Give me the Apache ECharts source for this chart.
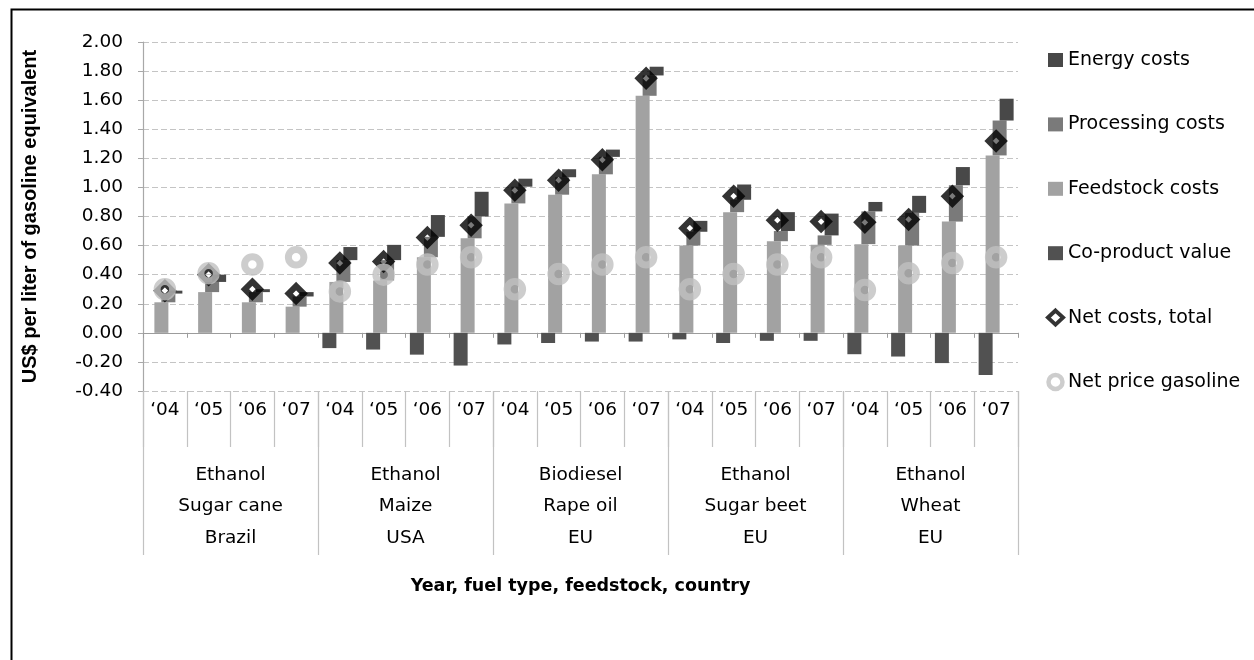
<!DOCTYPE html>
<html>
<head>
<meta charset="utf-8">
<title>Biofuel production costs</title>
<script src="https://cdn.jsdelivr.net/npm/echarts@6/dist/echarts.min.js"></script>
<style>
  html, body { margin: 0; padding: 0; background: #fff; }
  #chart { width: 1254px; height: 660px; }
</style>
</head>
<body>
<div id="chart"></div>
<script>
// Year of each column, and the fuel / feedstock / country groups (4 years each)
const years = ['\u201804', '\u201805', '\u201806', '\u201807',
               '\u201804', '\u201805', '\u201806', '\u201807',
               '\u201804', '\u201805', '\u201806', '\u201807',
               '\u201804', '\u201805', '\u201806', '\u201807',
               '\u201804', '\u201805', '\u201806', '\u201807'];
const groups = ['Ethanol\nSugar cane\nBrazil', 'Ethanol\nMaize\nUSA', 'Biodiesel\nRape oil\nEU',
                'Ethanol\nSugar beet\nEU', 'Ethanol\nWheat\nEU'];

// Cost components, US$ per liter of gasoline equivalent
const feedstock = [0.21, 0.28, 0.21, 0.18,  0.35, 0.36, 0.52, 0.65,  0.89, 0.95, 1.09, 1.63,
                   0.60, 0.83, 0.63, 0.605, 0.61, 0.60, 0.765, 1.22];
const processing = [0.06, 0.07, 0.07, 0.07,  0.15, 0.14, 0.14, 0.15,  0.115, 0.12, 0.12, 0.14,
                    0.095, 0.085, 0.07, 0.065, 0.225, 0.225, 0.25, 0.24];
const energy = [0.02, 0.05, 0.02, 0.03,  0.09, 0.105, 0.15, 0.17,  0.055, 0.055, 0.05, 0.06,
                0.075, 0.105, 0.13, 0.15,  0.065, 0.117, 0.125, 0.15];
const coproduct = [0, 0, 0, 0,  -0.105, -0.115, -0.15, -0.225,  -0.08, -0.07, -0.06, -0.06,
                   -0.045, -0.07, -0.055, -0.055,  -0.147, -0.163, -0.208, -0.29];
const netCost = [0.29, 0.40, 0.30, 0.27,  0.48, 0.49, 0.655, 0.74,  0.98, 1.05, 1.19, 1.75,
                 0.72, 0.94, 0.775, 0.765,  0.76, 0.78, 0.94, 1.32];
const gasoline = [0.30, 0.41, 0.47, 0.52,  0.285, 0.40, 0.47, 0.52,  0.30, 0.405, 0.47, 0.52,
                  0.30, 0.405, 0.47, 0.52,  0.295, 0.41, 0.48, 0.52];

// Invisible bases so processing and energy float on top of the previous component
const processingBase = feedstock.map((f) => f);
const energyBase = feedstock.map((f, i) => f + processing[i]);
const idx = years.map((_, i) => i);

const FONT = 'DejaVu Sans';
const GRID = { left: 143, top: 42, width: 875, height: 349 };
const BAR_W = 14;

const chart = echarts.init(document.getElementById('chart'), null, { renderer: 'canvas' });

const barCommon = {
  type: 'bar',
  xAxisIndex: 0,
  barWidth: BAR_W,
  barGap: '-50%',
  emphasis: { disabled: true }
};

chart.setOption({
  animation: false,
  backgroundColor: '#ffffff',
  textStyle: { fontFamily: FONT, color: '#000' },
  grid: GRID,
  legend: {
    orient: 'vertical',
    left: 1041,
    top: 45,
    itemWidth: 15,
    itemHeight: 14,
    itemGap: 44.4,
    selectedMode: false,
    textStyle: { fontFamily: FONT, fontSize: 19, lineHeight: 20, color: '#000' },
    data: [
      { name: 'Energy costs', icon: 'rect' },
      { name: 'Processing costs', icon: 'rect' },
      { name: 'Feedstock costs', icon: 'rect' },
      { name: 'Co-product value', icon: 'rect' },
      { name: 'Net costs, total', itemStyle: { borderWidth: 4 } },
      { name: 'Net price gasoline', itemStyle: { borderWidth: 4.5 } }
    ]
  },
  xAxis: [
    {
      // data axis, drawn along the zero line
      type: 'category',
      data: idx,
      position: 'bottom',
      axisLine: { onZero: true, lineStyle: { color: '#9c9c9c', width: 1.2 } },
      axisTick: { show: true, interval: 0, length: 5, lineStyle: { color: '#9c9c9c' } },
      axisLabel: { show: false },
      splitLine: { show: false }
    },
    {
      // year labels
      type: 'category',
      data: years,
      position: 'bottom',
      axisLine: { show: false, onZero: false },
      axisTick: { show: true, interval: 0, length: 56, lineStyle: { color: '#c2c2c2', width: 1.2 } },
      axisLabel: { interval: 0, margin: 10, fontSize: 18.5, fontFamily: FONT, color: '#000' },
      splitLine: { show: false }
    },
    {
      // fuel type / feedstock / country groups
      type: 'category',
      data: groups,
      position: 'bottom',
      axisLine: { show: false, onZero: false },
      axisTick: { show: true, interval: 0, length: 164, lineStyle: { color: '#c2c2c2', width: 1.2 } },
      axisLabel: { interval: 0, margin: 68, fontSize: 18.5, lineHeight: 31.5, fontFamily: FONT, color: '#000' },
      splitLine: { show: false },
      name: 'Year, fuel type, feedstock, country',
      nameLocation: 'middle',
      nameGap: 186,
      nameTextStyle: { fontFamily: FONT, fontWeight: 'bold', fontSize: 17.5, color: '#000' }
    }
  ],
  yAxis: {
    type: 'value',
    min: -0.4,
    max: 2.0,
    interval: 0.2,
    axisLine: { show: true, lineStyle: { color: '#a8a8a8', width: 1.2 } },
    axisTick: { show: true, length: 5, lineStyle: { color: '#a8a8a8' } },
    axisLabel: {
      margin: 20,
      fontSize: 18.5,
      fontFamily: FONT,
      color: '#000',
      formatter: (v) => v.toFixed(2)
    },
    splitLine: { show: true, lineStyle: { color: '#c4c4c4', type: [6, 3], width: 1.2 } },
    name: 'US$ per liter of gasoline equivalent',
    nameLocation: 'middle',
    nameGap: 103,
    nameTextStyle: { fontFamily: 'Liberation Sans', fontWeight: 'bold', fontSize: 20, color: '#000' }
  },
  series: [
    Object.assign({}, barCommon, {
      name: 'Co-product value', stack: 'co',
      itemStyle: { color: '#515151' }, data: coproduct
    }),
    Object.assign({}, barCommon, {
      name: 'Feedstock costs', stack: 'fs',
      itemStyle: { color: '#a2a2a2' }, data: feedstock
    }),
    Object.assign({}, barCommon, {
      name: 'processing-base', stack: 'pr',
      itemStyle: { color: 'rgba(0,0,0,0)' }, data: processingBase, tooltip: { show: false }
    }),
    Object.assign({}, barCommon, {
      name: 'Processing costs', stack: 'pr',
      itemStyle: { color: '#7a7a7a' }, data: processing
    }),
    Object.assign({}, barCommon, {
      name: 'energy-base', stack: 'en',
      itemStyle: { color: 'rgba(0,0,0,0)' }, data: energyBase, tooltip: { show: false }
    }),
    Object.assign({}, barCommon, {
      name: 'Energy costs', stack: 'en',
      itemStyle: { color: '#484848' }, data: energy
    }),
    {
      name: 'Net costs, total',
      type: 'scatter',
      xAxisIndex: 0,
      symbol: 'diamond',
      symbolSize: [15, 15],
      itemStyle: { color: 'rgba(255,255,255,0)', borderColor: '#000', borderWidth: 6 },
      emphasis: { disabled: true },
      z: 3,
      data: netCost
    },
    {
      name: 'Net price gasoline',
      type: 'scatter',
      xAxisIndex: 0,
      symbol: 'circle',
      symbolSize: 15.5,
      itemStyle: { color: 'rgba(255,255,255,0)', borderColor: '#c0c0c0', borderWidth: 7 },
      emphasis: { disabled: true },
      z: 4,
      data: gasoline
    }
  ],
  graphic: [
    {
      type: 'rect',
      left: 9, top: 7,
      shape: { x: 0, y: 0, width: 1300, height: 700 },
      style: { fill: 'none', stroke: '#000', lineWidth: 2 },
      silent: true
    }
  ]
});
</script>
</body>
</html>
